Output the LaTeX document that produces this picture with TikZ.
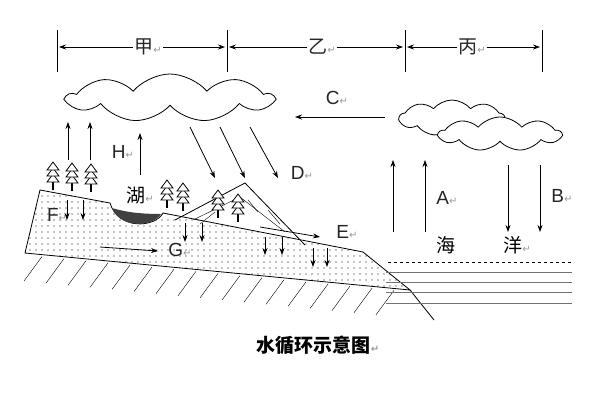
\documentclass[tikz,border=0pt]{standalone}
\usepackage{fontspec}
\setmainfont{Liberation Sans}
\newfontfamily\cjk{Noto Sans CJK SC}
\newfontfamily\sym{DejaVu Sans}
\usetikzlibrary{shapes.symbols,patterns.meta,arrows.meta}
\newcommand{\parmark}{{\sym\color{black!40}\fontsize{10}{10}\selectfont ↵}}
\begin{document}
\begin{tikzpicture}
[x=1pt,y=-1pt,
every node/.style={font=\fontsize{19}{19}\selectfont,inner sep=1pt},
lbl/.style={text=black!85},
flow/.style={-{Stealth[length=7pt,width=5pt]},thick},
cloudy/.style={cloud,cloud puffs=9,cloud puff arc=100,draw,fill=white,thick,inner sep=0pt},
tree/.pic={\draw[line width=2.6pt] (0,0) -- (0,-10);
  \foreach \t in {0,6,12}{\draw[fill=white,thick] (-6,-8-\t) -- (0,-16-\t) -- (6,-8-\t) -- cycle;}},
]
\useasboundingbox (0,0) rectangle (600,400);
% dimension line
\foreach \x in {57,227,405,542}{\draw[thick] (\x,30) -- (\x,72);}
\node[lbl] (jia) at (148,47) {\cjk 甲\parmark};
\node[lbl] (yi) at (322,47) {\cjk 乙\parmark};
\node[lbl] (bing) at (472,47) {\cjk 丙\parmark};
\draw[flow] (jia.west) -- (59,47); \draw[flow] (jia.east) -- (225,47);
\draw[flow] (yi.west) -- (229,47); \draw[flow] (yi.east) -- (403,47);
\draw[flow] (bing.west) -- (407,47); \draw[flow] (bing.east) -- (540,47);
% clouds
\node[cloudy,minimum width=205pt,minimum height=48pt] (cloud1) at (170,98) {};
\node[cloudy,minimum width=105pt,minimum height=36pt] (cloud2) at (452,118) {};
\node[cloudy,minimum width=122pt,minimum height=34pt] (cloud3) at (500,134) {};
% land
\draw[thick,pattern={Dots[distance=6pt,radius=0.6pt]}] (40,190) -- (110,203)
  .. controls (118,230) and (155,228) .. (163,213) -- (363,252) -- (410,290) -- (25,253) -- cycle;
\draw[thick] (410,290) -- (434,320);
\fill[black!75] (112,208) .. controls (120,228) and (152,228) .. (161,214) .. controls (140,214) and (125,212) .. cycle;
\foreach \x in {42,64,...,400}{\draw (\x,252.5+\x*0.096) -- (\x-18,277+\x*0.096);}
% sea
\draw[dashed,thick] (388,262) -- (572,262);
\foreach \y in {272,282,292,303}{\draw[black!55,thick] (386,\y) -- (572,\y);}
% mountain
\draw[thick] (175,220) -- (245,183) -- (305,245);
\draw (193,220) -- (240,197) -- (285,232);
\draw (200,224) -- (215,212); \draw (248,200) -- (258,212); \draw (268,210) -- (280,224);
% trees
\foreach \x/\y in {53/190,72/191,91/192,167/208,183/211,218/218,238/222}{\pic at (\x,\y) {tree};}
% arrows
\draw[flow] (68,160) -- (68,122); \draw[flow] (90,160) -- (90,122);
\draw[flow] (140,175) -- (140,133);
\draw[flow] (190,127) -- (215,178); \draw[flow] (220,127) -- (245,178); \draw[flow] (250,127) -- (278,178);
\draw[flow] (385,117) -- (295,117);
\draw[flow] (393,232) -- (393,160); \draw[flow] (425,232) -- (425,160);
\draw[flow] (508,165) -- (508,232); \draw[flow] (540,165) -- (540,232);
\foreach \x/\a/\b in {67/200/220,83/200/220,185/223/242,202/223/242,265/237/255,282/237/255,313/248/267,327/248/267}{\draw[flow] (\x,\a) -- (\x,\b);}
\draw[flow] (260,227) -- (320,237);
\draw[flow] (100,247) -- (158,251);
% labels
\node[lbl] (C) at (337,98) {C\parmark};
\node[lbl] (H) at (123,152) {H\parmark};
\node[lbl] (D) at (302,173) {D\parmark};
\node[lbl] (A) at (447,198) {A\parmark};
\node[lbl] (B) at (562,196) {B\parmark};
\node[lbl] (E) at (347,232) {E\parmark};
\node[lbl] (F) at (57,215) {F\parmark};
\node[lbl] (G) at (180,250) {G\parmark};
\node (hu) at (140,195) {\cjk 湖\parmark};
\node (hai) at (446,245) {\cjk 海};
\node (yang) at (517,245) {\cjk 洋\parmark};
\node (title) at (318,345) {\cjk\bfseries 水循环示意图\parmark};
\end{tikzpicture}
\end{document}
